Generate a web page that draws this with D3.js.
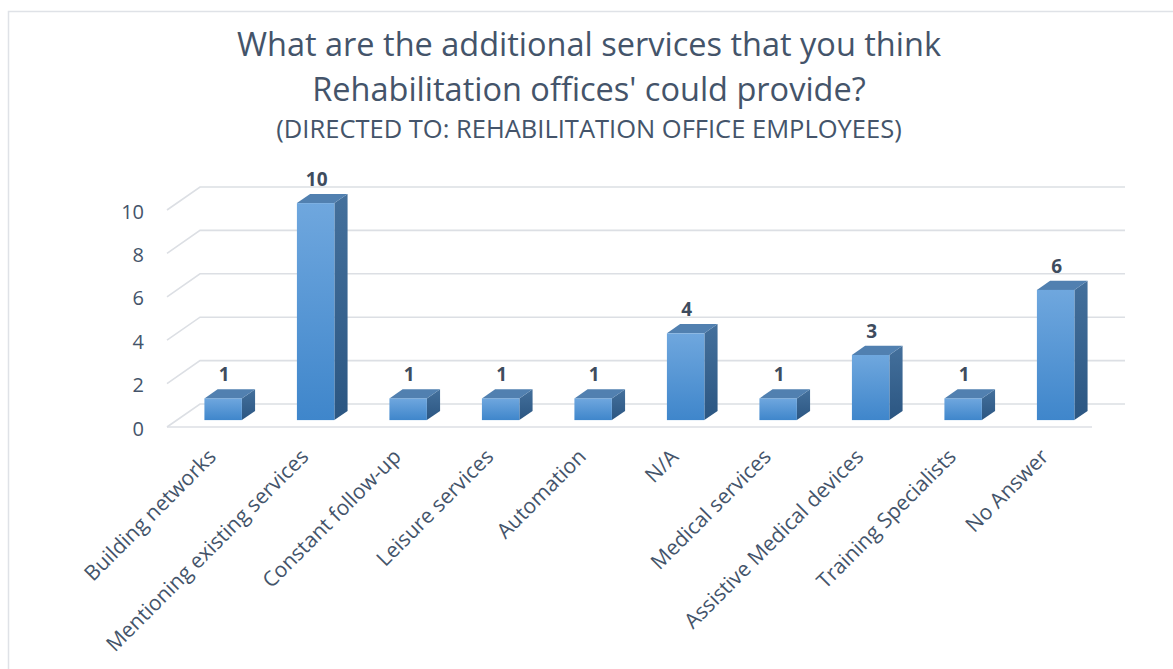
<!DOCTYPE html>
<html>
<head>
<meta charset="utf-8">
<script src="https://cdn.jsdelivr.net/npm/d3@7"></script>
<style>
  html, body { margin: 0; padding: 0; background: #ffffff; }
  svg { display: block; }
</style>
</head>
<body>
<svg id="chart" width="1173" height="669"></svg>
<script>
// Survey responses: additional services rehabilitation offices could provide
const categories = [
  "Building networks",
  "Mentioning existing services",
  "Constant follow-up",
  "Leisure services",
  "Automation",
  "N/A",
  "Medical services",
  "Assistive Medical devices",
  "Training Specialists",
  "No Answer"
];
const counts = [1, 10, 1, 1, 1, 4, 1, 3, 1, 6];
const yTicks = [0, 2, 4, 6, 8, 10];
const titleLines = [
  "What are the additional services that you think",
  "Rehabilitation offices' could provide?"
];
const subtitle = "(DIRECTED TO: REHABILITATION OFFICE EMPLOYEES)";

const svg = d3.select("#chart");
const textColor = "#44546a";
const font = "'Open Sans', 'Noto Sans', sans-serif";

// outer chart frame
svg.append("rect")
  .attr("x", 8.5).attr("y", 11.5)
  .attr("width", 1300).attr("height", 800)
  .attr("fill", "#fff")
  .attr("stroke", "#dfe2e7").attr("stroke-width", 1.5);

// titles
svg.append("g").selectAll("text").data(titleLines).join("text")
  .attr("x", 589).attr("y", (d, i) => 56 + i * 45)
  .attr("text-anchor", "middle")
  .attr("font-family", font).attr("font-size", 32.5)
  .attr("fill", textColor)
  .text(d => d);
svg.append("text")
  .attr("x", 589).attr("y", 138)
  .attr("text-anchor", "middle")
  .attr("font-family", font).attr("font-size", 25.5)
  .attr("fill", textColor)
  .text(subtitle);

// 3D projection: depth offset of the back wall relative to the front plane
const DX = 33, DY = -23;
const x = d3.scaleBand().domain(categories).range([167, 1092])
  .paddingInner(0.595).paddingOuter(0.2975);
const y = d3.scaleLinear().domain([0, 10]).range([427, 210]);
const xEnd = 1092;

// gridlines: diagonal on the side wall, then horizontal along the back wall
const grid = svg.append("g");
yTicks.forEach(v => {
  const y0 = y(v);
  grid.append("path")
    .attr("d", `M167,${y0} L${167 + DX},${y0 + DY} L${xEnd + DX},${y0 + DY}`)
    .attr("fill", "none")
    .attr("stroke", "#dcdfe4").attr("stroke-width", 1.6);
});
// front edge of the floor
grid.append("line")
  .attr("x1", 167).attr("x2", xEnd)
  .attr("y1", y(0)).attr("y2", y(0))
  .attr("stroke", "#dcdfe4").attr("stroke-width", 1.6);

// y axis labels
const yAxis = d3.axisLeft(y).tickValues(yTicks).tickSize(0).tickPadding(0);
const yg = svg.append("g").attr("transform", "translate(144,1)").call(yAxis);
yg.select(".domain").remove();
yg.selectAll("text")
  .attr("font-family", font).attr("font-size", 20)
  .attr("fill", textColor).attr("dy", "0.35em");

// bar gradients
const defs = svg.append("defs");
const gFront = defs.append("linearGradient").attr("id", "gFront")
  .attr("x1", 0).attr("y1", 0).attr("x2", 0).attr("y2", 1);
gFront.append("stop").attr("offset", "0%").attr("stop-color", "#6fa7de");
gFront.append("stop").attr("offset", "100%").attr("stop-color", "#3f86cb");
const gSide = defs.append("linearGradient").attr("id", "gSide")
  .attr("x1", 0).attr("y1", 0).attr("x2", 0).attr("y2", 1);
gSide.append("stop").attr("offset", "0%").attr("stop-color", "#44709c");
gSide.append("stop").attr("offset", "100%").attr("stop-color", "#2b5682");

// bars sit between 30% and 70% of the depth
const f0 = 0.3, f1 = 0.7;
const bw = x.bandwidth();
const bars = svg.append("g").selectAll("g").data(categories).join("g");
bars.each(function (c, i) {
  const g = d3.select(this);
  const v = counts[i];
  const xl = x(c) + f0 * DX, xr = xl + bw;
  const yb = y(0) + f0 * DY, yt = y(v) + f0 * DY;
  const ddx = (f1 - f0) * DX, ddy = (f1 - f0) * DY;
  // side face
  g.append("path")
    .attr("d", `M${xr},${yt} L${xr + ddx},${yt + ddy} L${xr + ddx},${yb + ddy} L${xr},${yb} Z`)
    .attr("fill", "url(#gSide)");
  // top face
  g.append("path")
    .attr("d", `M${xl},${yt} L${xl + ddx},${yt + ddy} L${xr + ddx},${yt + ddy} L${xr},${yt} Z`)
    .attr("fill", "#5180b0");
  // front face
  g.append("rect")
    .attr("x", xl).attr("y", yt)
    .attr("width", bw).attr("height", yb - yt)
    .attr("fill", "url(#gFront)");
  // value label
  g.append("text")
    .attr("x", xl + bw / 2 + 1).attr("y", yt - 17)
    .attr("text-anchor", "middle")
    .attr("font-family", font).attr("font-size", 19).attr("font-weight", "bold")
    .attr("fill", "#3e4c5e")
    .text(v);
});

// category labels, rotated 45 degrees
svg.append("g").selectAll("text").data(categories).join("text")
  .attr("transform", d => `translate(${x(d) + bw / 2 + 4},458) rotate(-45)`)
  .attr("text-anchor", "end")
  .attr("font-family", font).attr("font-size", 21)
  .attr("fill", textColor)
  .text(d => d);
</script>
</body>
</html>
